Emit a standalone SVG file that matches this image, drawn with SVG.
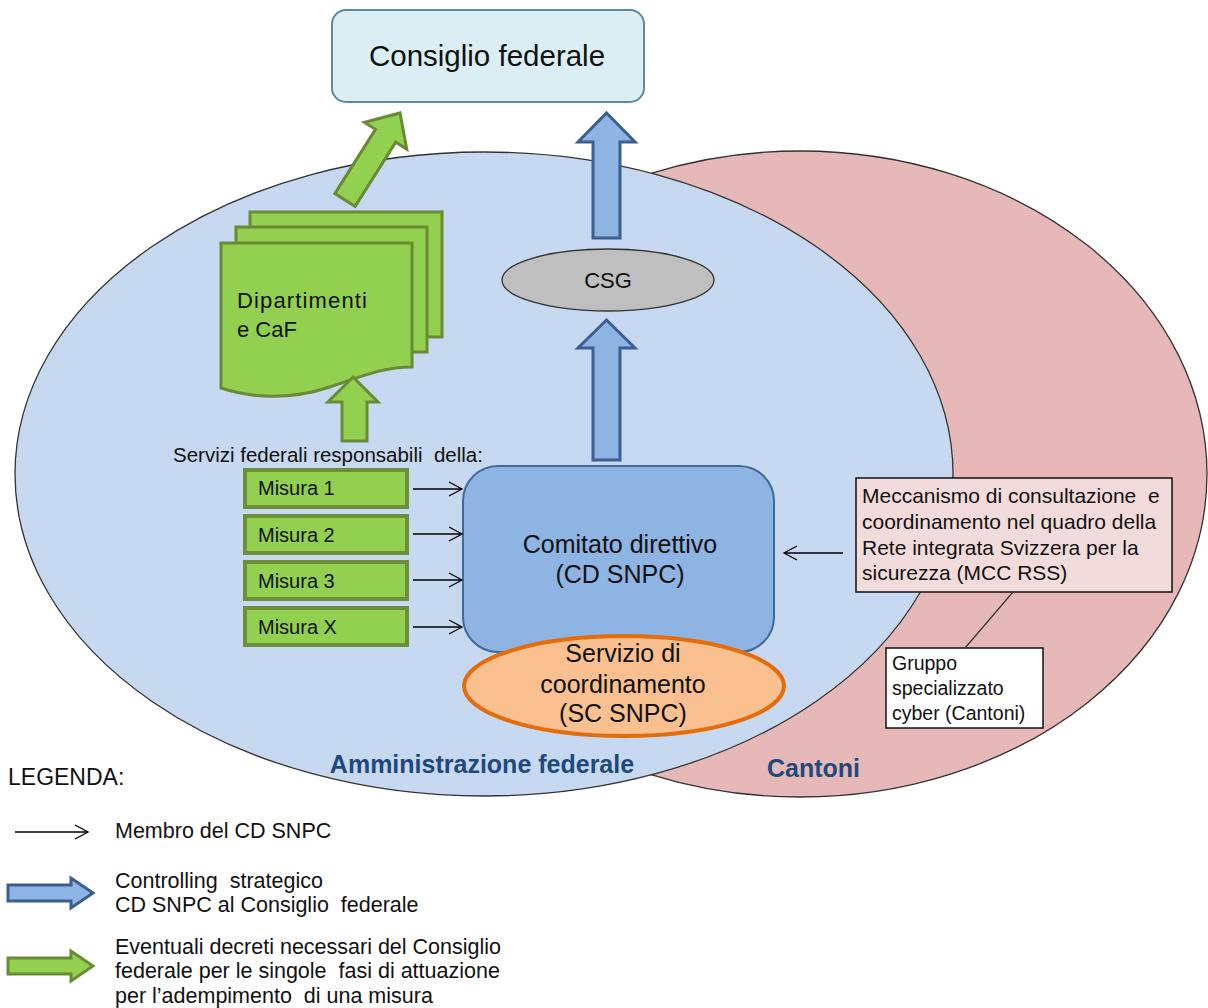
<svg xmlns="http://www.w3.org/2000/svg" width="1208" height="1008" viewBox="0 0 1208 1008">
<style>
text{font-family:"Liberation Sans",Arial,sans-serif;fill:#111;white-space:pre}
.region{stroke:#333;stroke-width:1.3}
.garrow{fill:#92D050;stroke:#6A8A35;stroke-width:3;stroke-linejoin:miter}
.barrow{fill:#8EB4E3;stroke:#3B5F8E;stroke-width:3;stroke-linejoin:miter}
.misura{fill:#92D050;stroke:#6E8E3A;stroke-width:4}
.page{fill:#92D050;stroke:#6A8A35;stroke-width:3}
.thin{stroke:#000;stroke-width:1.3;fill:none}
.t20{font-size:20px}
.t21{font-size:21px}
.lab{font-size:25px;font-weight:bold;fill:#1F497D}
</style>
<defs>
<marker id="open" markerWidth="16" markerHeight="16" refX="14" refY="8" orient="auto" markerUnits="userSpaceOnUse">
<path d="M1,1 L14,8 L1,15" fill="none" stroke="#000" stroke-width="1.3"/>
</marker>
<path id="bigBlue" d="M0,-8 L63,-8 L63,-15 L85,0 L63,15 L63,8 L0,8 Z"/>
</defs>

<g id="cantoni">
<ellipse class="region" cx="800" cy="474" rx="407" ry="323" fill="#E6B8B7"/>
<text class="lab" x="767" y="777">Cantoni</text>
</g>
<g id="amministrazione">
<ellipse class="region" cx="484" cy="474" rx="469" ry="322" fill="#C6D9F1"/>
<text class="lab" x="482" y="773" text-anchor="middle">Amministrazione federale</text>
</g>

<g id="consiglio">
<rect x="332" y="10" width="312" height="92" rx="14" fill="#DBEEF4" stroke="#5C8A9A" stroke-width="2"/>
<text x="487" y="66" text-anchor="middle" style="font-size:29.5px">Consiglio federale</text>
</g>

<g id="dipartimenti">
<rect class="page" x="250" y="212" width="192" height="125"/>
<rect class="page" x="236" y="227" width="191" height="125"/>
<path class="page" d="M221,243 H412 V367 C382,367 360,377 330,387 C290,400 252,398 221,388 Z"/>
<text x="237" y="308" style="font-size:22px" textLength="130" lengthAdjust="spacing">Dipartimenti</text>
<text x="237" y="337" style="font-size:22px">e CaF</text>
</g>

<g id="csg">
<ellipse cx="608" cy="280" rx="106" ry="31" fill="#BFBFBF" stroke="#333" stroke-width="1.3"/>
<text x="608" y="288" text-anchor="middle" style="font-size:22px">CSG</text>
</g>

<g id="servizi">
<text x="173" y="462" style="font-size:20.5px">Servizi federali responsabili  della:</text>
</g>
<g id="misura1"><rect class="misura" x="245" y="470" width="162" height="37"/><text class="t20" x="258" y="495">Misura 1</text></g>
<g id="misura2"><rect class="misura" x="245" y="516" width="162" height="37"/><text class="t20" x="258" y="542">Misura 2</text></g>
<g id="misura3"><rect class="misura" x="245" y="562" width="162" height="37"/><text class="t20" x="258" y="588">Misura 3</text></g>
<g id="misuraX"><rect class="misura" x="245" y="608" width="162" height="37"/><text class="t20" x="258" y="634">Misura X</text></g>

<g id="comitato">
<rect x="463" y="466" width="311" height="186" rx="35" fill="#8EB4E3" stroke="#3F6A9A" stroke-width="2"/>
<text x="620" y="553" text-anchor="middle" style="font-size:25px">Comitato direttivo</text>
<text x="620" y="583" text-anchor="middle" style="font-size:25px">(CD SNPC)</text>
</g>

<g id="sc">
<ellipse cx="624" cy="686" rx="160" ry="50" fill="#FAC090" stroke="#E46C0A" stroke-width="4"/>
<text x="623" y="662" text-anchor="middle" style="font-size:25px">Servizio di</text>
<text x="623" y="693" text-anchor="middle" style="font-size:25px">coordinamento</text>
<text x="623" y="722" text-anchor="middle" style="font-size:25px">(SC SNPC)</text>
</g>

<g id="mcc">
<rect x="856" y="478" width="316" height="114" fill="#F2DCDB" stroke="#111" stroke-width="1.5"/>
<text class="t21" x="862" y="503">Meccanismo di consultazione  e</text>
<text class="t21" x="862" y="529">coordinamento nel quadro della</text>
<text class="t21" x="862" y="555">Rete integrata Svizzera per la</text>
<text class="t21" x="862" y="580">sicurezza (MCC RSS)</text>
</g>

<g id="gruppo">
<rect x="886" y="648" width="157" height="80" fill="#fff" stroke="#111" stroke-width="1.5"/>
<text x="892" y="670" style="font-size:19.5px">Gruppo</text>
<text x="892" y="695" style="font-size:19.5px">specializzato</text>
<text x="892" y="720" style="font-size:19.5px">cyber (Cantoni)</text>
</g>

<g id="connectors">
<path class="barrow" d="M593,238 V142 H578 L606.5,113 L635,142 H620 V238 Z"/>
<path class="barrow" d="M593,460 V348 H578 L606.5,320 L635,348 H620 V460 Z"/>
<path class="garrow" d="M0,-12 L76,-12 L76,-25 L103,0 L76,25 L76,12 L0,12 Z" transform="translate(345,200) rotate(-57.7)"/>
<path class="garrow" d="M342,441 V402 H328 L353,377 L378,402 H367 V441 Z"/>
<line class="thin" x1="413" y1="489" x2="462" y2="489" marker-end="url(#open)"/>
<line class="thin" x1="413" y1="534" x2="462" y2="534" marker-end="url(#open)"/>
<line class="thin" x1="413" y1="580" x2="462" y2="580" marker-end="url(#open)"/>
<line class="thin" x1="413" y1="627" x2="462" y2="627" marker-end="url(#open)"/>
<line class="thin" x1="843" y1="553" x2="784" y2="553" marker-end="url(#open)"/>
<line x1="1013" y1="592" x2="965" y2="648" stroke="#333" stroke-width="1.2"/>
</g>

<g id="legenda">
<text x="8" y="785" style="font-size:23px">LEGENDA:</text>
<line class="thin" x1="15" y1="832" x2="88" y2="832" marker-end="url(#open)"/>
<text x="115" y="838" style="font-size:21.5px">Membro del CD SNPC</text>
<use href="#bigBlue" x="8" y="893" class="barrow"/>
<text x="115" y="888" style="font-size:21.5px">Controlling  strategico</text>
<text x="115" y="912" style="font-size:21.5px">CD SNPC al Consiglio  federale</text>
<use href="#bigBlue" x="8" y="966" class="garrow"/>
<text x="115" y="954" style="font-size:21.5px">Eventuali decreti necessari del Consiglio</text>
<text x="115" y="978" style="font-size:21.5px">federale per le singole  fasi di attuazione</text>
<text x="115" y="1003" style="font-size:21.5px">per l’adempimento  di una misura</text>
</g>
</svg>
